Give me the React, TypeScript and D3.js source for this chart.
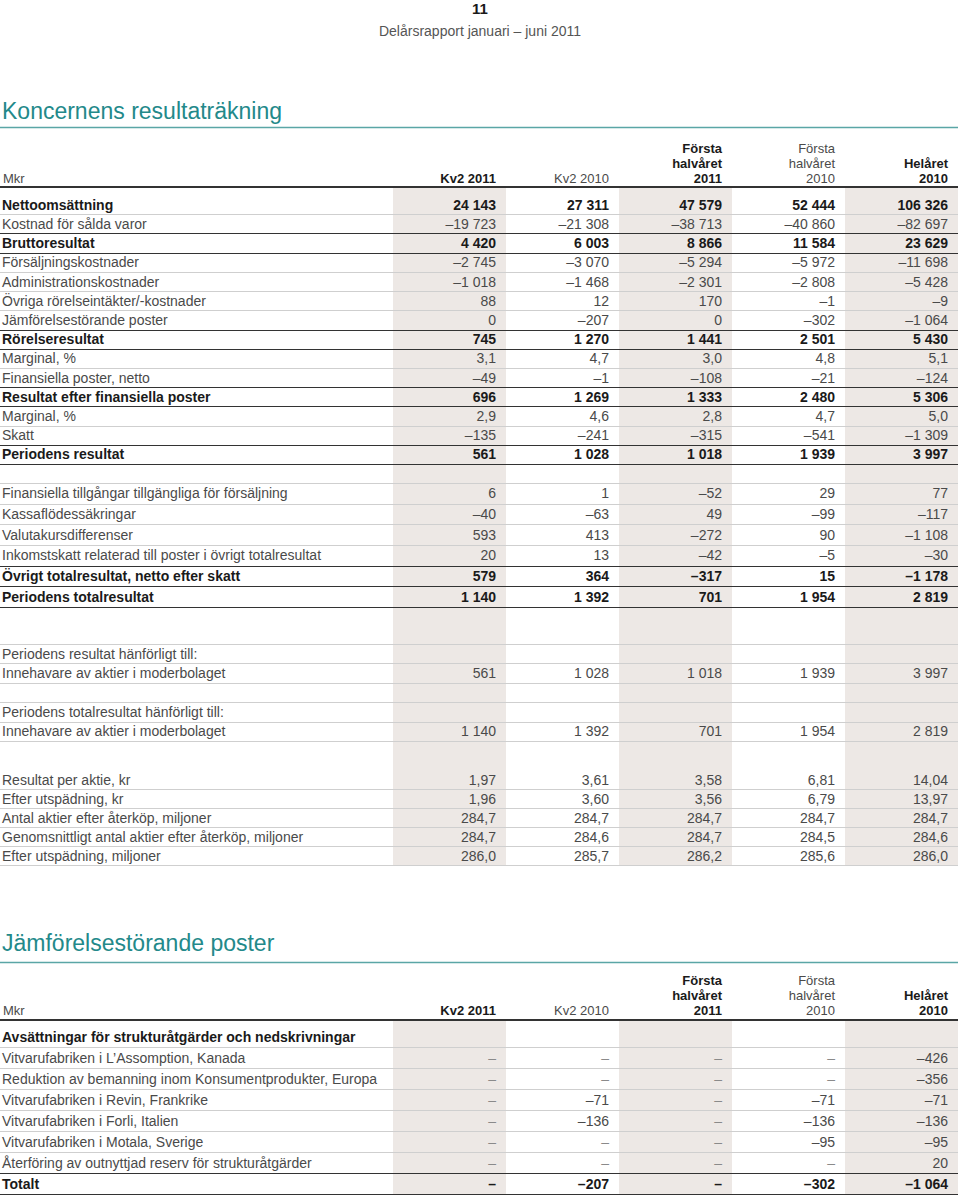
import * as d3 from "d3";

// column heads (shared by both tables)
const columnHeads = [["Kv2 2011"], ["Kv2 2010"], ["Första", "halvåret", "2011"], ["Första", "halvåret", "2010"], ["Helåret", "2010"]];
const currentColumns = [true, false, true, false, true];

// Koncernens resultaträkning
const incomeLabels = [
  "Nettoomsättning", "Kostnad för sålda varor", "Bruttoresultat", "Försäljningskostnader",
  "Administrationskostnader", "Övriga rörelseintäkter/-kostnader", "Jämförelsestörande poster",
  "Rörelseresultat", "Marginal, %", "Finansiella poster, netto", "Resultat efter finansiella poster",
  "Marginal, %", "Skatt", "Periodens resultat",
];
const incomeValues = [
  [24143, 27311, 47579, 52444, 106326],
  [-19723, -21308, -38713, -40860, -82697],
  [4420, 6003, 8866, 11584, 23629],
  [-2745, -3070, -5294, -5972, -11698],
  [-1018, -1468, -2301, -2808, -5428],
  [88, 12, 170, -1, -9],
  [0, -207, 0, -302, -1064],
  [745, 1270, 1441, 2501, 5430],
  [3.1, 4.7, 3.0, 4.8, 5.1],
  [-49, -1, -108, -21, -124],
  [696, 1269, 1333, 2480, 5306],
  [2.9, 4.6, 2.8, 4.7, 5.0],
  [-135, -241, -315, -541, -1309],
  [561, 1028, 1018, 1939, 3997],
];
const incomeDecimals = [0, 0, 0, 0, 0, 0, 0, 0, 1, 0, 0, 1, 0, 0];
const incomeBold = [true, false, true, false, false, false, false, true, false, false, true, false, false, true];
const incomeTotals = [false, false, true, false, false, false, false, true, false, false, true, false, false, true];

// övrigt totalresultat
const ociLabels = [
  "Finansiella tillgångar tillgängliga för försäljning", "Kassaflödessäkringar", "Valutakursdifferenser",
  "Inkomstskatt relaterad till poster i övrigt totalresultat", "Övrigt totalresultat, netto efter skatt",
  "Periodens totalresultat",
];
const ociValues = [
  [6, 1, -52, 29, 77],
  [-40, -63, 49, -99, -117],
  [593, 413, -272, 90, -1108],
  [20, 13, -42, -5, -30],
  [579, 364, -317, 15, -1178],
  [1140, 1392, 701, 1954, 2819],
];
const ociBold = [false, false, false, false, true, true];

// hänförligt till
const attribLabels = [
  "Periodens resultat hänförligt till:", "Innehavare av aktier i moderbolaget", "",
  "Periodens totalresultat hänförligt till:", "Innehavare av aktier i moderbolaget",
];
const attribValues = [null, [561, 1028, 1018, 1939, 3997], null, null, [1140, 1392, 701, 1954, 2819]];

// per aktie
const shareLabels = [
  "Resultat per aktie, kr", "Efter utspädning, kr", "Antal aktier efter återköp, miljoner",
  "Genomsnittligt antal aktier efter återköp, miljoner", "Efter utspädning, miljoner",
];
const shareValues = [
  [1.97, 3.61, 3.58, 6.81, 14.04],
  [1.96, 3.6, 3.56, 6.79, 13.97],
  [284.7, 284.7, 284.7, 284.7, 284.7],
  [284.7, 284.6, 284.7, 284.5, 284.6],
  [286.0, 285.7, 286.2, 285.6, 286.0],
];
const shareDecimals = [2, 2, 1, 1, 1];

// Jämförelsestörande poster
const iacLabels = [
  "Avsättningar för strukturåtgärder och nedskrivningar", "Vitvarufabriken i L\u2019Assomption, Kanada",
  "Reduktion av bemanning inom Konsumentprodukter, Europa", "Vitvarufabriken i Revin, Frankrike",
  "Vitvarufabriken i Forli, Italien", "Vitvarufabriken i Motala, Sverige",
  "Återföring av outnyttjad reserv för strukturåtgärder", "Totalt",
];
const iacValues = [
  null,
  [null, null, null, null, -426],
  [null, null, null, null, -356],
  [null, -71, null, -71, -71],
  [null, -136, null, -136, -136],
  [null, null, null, -95, -95],
  [null, null, null, null, 20],
  [null, -207, null, -302, -1064],
];
const iacBold = [true, false, false, false, false, false, false, true];
const iacTotals = [false, false, false, false, false, false, false, true];

const W = 960;
const H = 1197;
const RIGHT = 958;
const FONT = "'Liberation Sans', Arial, Helvetica, sans-serif";
const FS = 14;
const TEAL = "#23898a";
const TEAL_LINE = "#5aa6a6";
const BAND = "#ede8e5";
const LIGHT = "#cfcfcf";
const DARK = "#333";
const TEXT = "#4a4a4a";
const STRONG = "#1a1a1a";

const locale = d3.formatLocale({ decimal: ",", thousands: "\u00a0", grouping: [3], currency: ["", ""], minus: "\u2013" });
const fmtValue = (v: number | null, dec: number) => (v == null ? "\u2013" : locale.format(`,.${dec}f`)(v));

const x = d3.scaleBand<number>().domain(d3.range(columnHeads.length)).range([393, RIGHT]);
const colRight = (j: number) => (x(j) as number) + x.bandwidth() - 10;

const crisp = (v: number) => Math.round(v) + 0.5;

function Title({ text, baseline, lineY }: { text: string; baseline: number; lineY: number }) {
  return (
    <g>
      <text x={2} y={baseline} fontSize={23} fill={TEAL} fontFamily={FONT} style={{ fontWeight: 300 }}>{text}</text>
      <line x1={0} x2={RIGHT} y1={lineY} y2={lineY} stroke={TEAL_LINE} strokeWidth={1.5} />
    </g>
  );
}

function Header({ baseline, lineY }: { baseline: number; lineY: number }) {
  return (
    <g fontFamily={FONT} fontSize={FS - 1}>
      <text x={3} y={baseline} fill={TEXT}>Mkr</text>
      {columnHeads.map((lines, j) =>
        lines.map((t, k) => (
          <text
            key={`${j}-${k}`}
            x={colRight(j)}
            y={baseline - (lines.length - 1 - k) * 15}
            textAnchor="end"
            fill={currentColumns[j] ? STRONG : TEXT}
            fontWeight={currentColumns[j] ? "bold" : "normal"}
          >
            {t}
          </text>
        ))
      )}
      <line x1={0} x2={RIGHT} y1={lineY} y2={lineY} stroke={DARK} strokeWidth={2} />
    </g>
  );
}

type BlockProps = {
  labels: string[];
  values: (((number | null)[]) | null)[];
  decimals?: number[];
  bold?: boolean[];
  totals?: boolean[];
  top: number;
  bottom: number;
  lineAbove?: boolean;
};

function Block({ labels, values, decimals, bold, totals, top, bottom, lineAbove }: BlockProps) {
  const y = d3.scaleBand<number>().domain(d3.range(labels.length)).range([top, bottom]);
  const h = y.bandwidth();
  const isBold = (i: number) => !!(bold && bold[i]);
  const isTotal = (i: number) => !!(totals && totals[i]);
  return (
    <g fontFamily={FONT} fontSize={FS}>
      {lineAbove && <line x1={0} x2={RIGHT} y1={crisp(top)} y2={crisp(top)} stroke={LIGHT} />}
      {labels.map((label, i) => {
        const cy = (y(i) as number) + h / 2;
        const b = isBold(i);
        const ly = crisp((y(i) as number) + h);
        const row = values[i];
        return (
          <g key={i}>
            <text x={2} y={cy} dy="0.36em" fill={b ? STRONG : TEXT} fontWeight={b ? "bold" : "normal"}>{label}</text>
            {row &&
              row.map((v, j) => (
                <text
                  key={j}
                  x={colRight(j)}
                  y={cy}
                  dy="0.36em"
                  textAnchor="end"
                  fill={b ? STRONG : v == null ? "#8a8a8a" : TEXT}
                  fontWeight={b ? "bold" : "normal"}
                >
                  {fmtValue(v, decimals ? decimals[i] : 0)}
                </text>
              ))}
            <line x1={0} x2={RIGHT} y1={ly} y2={ly} stroke={isTotal(i) || isTotal(i + 1) ? DARK : LIGHT} strokeWidth={1} />
          </g>
        );
      })}
    </g>
  );
}

function Bands({ top, bottom }: { top: number; bottom: number }) {
  return (
    <g>
      {currentColumns.map((c, j) =>
        c ? <rect key={j} x={x(j)} y={top} width={x.bandwidth()} height={bottom - top} fill={BAND} /> : null
      )}
    </g>
  );
}

export default function App() {
  return (
    <div style={{ position: "absolute", left: 0, top: 0, width: W, height: H, background: "#fff" }}>
      <svg width={W} height={H} style={{ display: "block" }}>
        <text x={W / 2} y={14} textAnchor="middle" fontFamily={FONT} fontWeight="bold" fontSize={15} fill={STRONG}>11</text>
        <text x={W / 2} y={36} textAnchor="middle" fontFamily={FONT} fontSize={14} fill="#555">Delårsrapport januari – juni 2011</text>

        <Title text="Koncernens resultaträkning" baseline={119} lineY={127.5} />
        <Bands top={188} bottom={866} />
        <Header baseline={183} lineY={187} />
        <Block labels={incomeLabels} values={incomeValues} decimals={incomeDecimals} bold={incomeBold} totals={incomeTotals} top={195} bottom={464} />
        <Block labels={ociLabels} values={ociValues} bold={ociBold} totals={ociBold} top={483} bottom={607} lineAbove />
        <Block labels={attribLabels} values={attribValues} top={644} bottom={741} lineAbove />
        <Block labels={shareLabels} values={shareValues} decimals={shareDecimals} top={770} bottom={865} />

        <Title text="Jämförelsestörande poster" baseline={951} lineY={962.5} />
        <Bands top={1021} bottom={1195} />
        <Header baseline={1015} lineY={1020} />
        <Block labels={iacLabels} values={iacValues} bold={iacBold} totals={iacTotals} top={1026} bottom={1194} />
      </svg>
    </div>
  );
}
